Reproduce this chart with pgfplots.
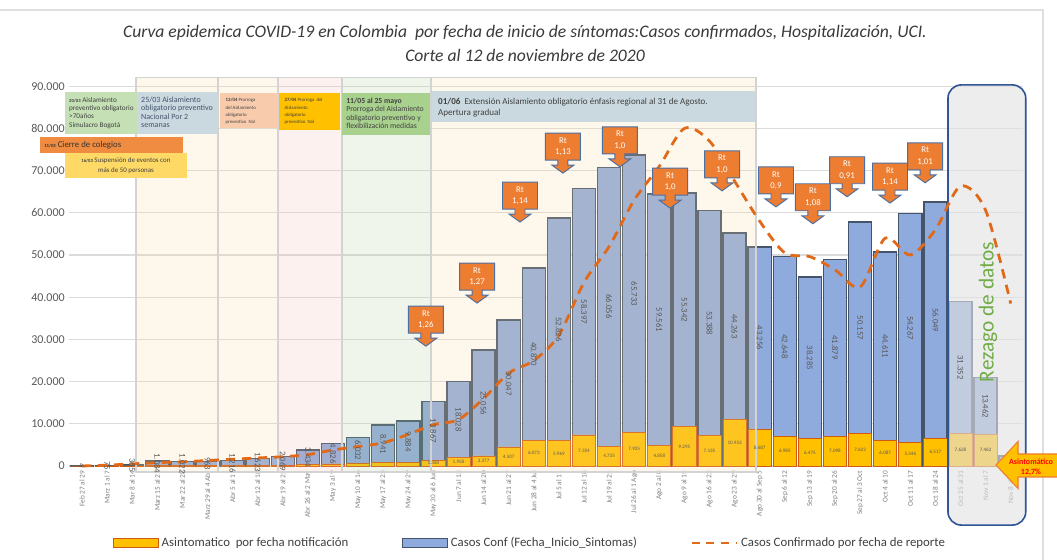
\documentclass[border=0pt]{standalone}
\usepackage{fontspec}
\setmainfont{Carlito}
\usepackage{pgfplots}
\pgfplotsset{compat=1.18}
\usepackage{pgfplotstable}

\definecolor{bluebar}{HTML}{8FAADC}
\definecolor{blueedge}{HTML}{44546A}
\definecolor{yelbar}{HTML}{FFC000}
\definecolor{yeledge}{HTML}{D05A10}
\definecolor{repline}{HTML}{E06A1A}
\definecolor{creamB}{RGB}{250,220,160}
\definecolor{pinkB}{RGB}{240,185,170}
\definecolor{greenB}{RGB}{175,205,150}
\definecolor{bandline}{HTML}{D3D3D3}
\definecolor{rtorange}{HTML}{ED7D31}
\definecolor{rtblue}{HTML}{4A6FA5}
\definecolor{boxgreen}{HTML}{C5E0B4}
\definecolor{boxblue}{HTML}{CAD9E0}
\definecolor{boxpeach}{HTML}{F8CBAD}
\definecolor{boxgold}{HTML}{FFC000}
\definecolor{boxgreenB}{HTML}{A9D18E}
\definecolor{boxorange}{HTML}{F08C42}
\definecolor{boxyellow}{HTML}{FFD966}
\definecolor{rezfill}{HTML}{E2E2E2}
\definecolor{rezedge}{HTML}{2F5597}
\definecolor{rezgreen}{HTML}{70AD47}
\definecolor{txt}{HTML}{404040}
\definecolor{lbl}{HTML}{595959}

\pgfplotstableread{
idx asin conf rep
0 0 4 0
1 5 75 200
2 20 365 500
3 60 1084 800
4 60 1022 1000
5 70 963 1300
6 90 1216 1600
7 120 1623 1900
8 150 2069 2200
9 330 3434 2700
10 480 4826 3800
11 670 6032 4600
12 751 8941 5500
13 809 9884 7500
14 1380 13867 9800
15 1958 18028 11000
16 2377 25056 16000
17 4507 30047 22000
18 6073 40870 25000
19 5969 52826 31000
20 7354 58397 43500
21 4735 66056 52000
22 7925 65733 63000
23 4858 59561 71000
24 9295 55342 80000
25 7135 53388 77000
26 10953 44263 67500
27 8687 43256 58000
28 6985 42648 50500
29 6475 38285 49600
30 7098 41879 46500
31 7622 50157 42400
32 6087 44611 54000
33 5546 54267 50000
34 6517 56049 56000
35 7628 31352 66300
36 7462 13462 60600
37 1500 900 38500
}\data

\newcommand{\rt}[3]{%
  \draw[fill=rtorange, draw=rtblue, line width=0.7pt] (axis cs:#1,#2) -- ++(-8.25pt,6pt) -- ++(4.5pt,0pt) -- ++(0pt,3.75pt) -- ++(-9.375pt,0pt) -- ++(0pt,20.25pt) -- ++(26.25pt,0pt) -- ++(0pt,-20.25pt) -- ++(-9.375pt,0pt) -- ++(0pt,-3.75pt) -- ++(4.5pt,0pt) -- cycle;
  \node[text=white, align=center, inner sep=0pt, font=\fontsize{6.6}{8.4}\selectfont] at ([yshift=19.9pt]axis cs:#1,#2) {Rt\\#3};
}

\begin{document}
\begin{tikzpicture}
\begin{scope}[shift={(-52.0875pt,-70.5pt)}, x=0.75pt, y=0.75pt]
\fill[white] (0,0) rectangle (1057,560);
\draw[gray!25, line width=0.8pt] (0,550) -- (1043,550) -- (1043,0);
\node[font=\itshape\fontsize{13.2}{15}\selectfont, text=txt!90!black] at (525,527) {Curva epidemica COVID-19 en Colombia \ por fecha de inicio de síntomas:Casos confirmados, Hospitalización, UCI.};
\node[font=\itshape\fontsize{13.2}{15}\selectfont, text=txt!90!black] at (525,505) {Corte al 12 de noviembre de 2020};
\end{scope}

\begin{axis}[
  at={(0pt,0pt)}, anchor=south west,
  scale only axis, width=715.35pt, height=291.2pt,
  xmin=-0.5, xmax=37.5, ymin=0, ymax=92000,
  clip=false,
  axis y line*=left, axis x line*=bottom,
  y axis line style={draw=none},
  x axis line style={draw=bandline, line width=0.8pt},
  ytick={0,10000,...,90000},
  scaled y ticks=false,
  /pgf/number format/assume math mode=true,
  yticklabel style={font=\fontsize{9}{10}\selectfont, text=lbl, /pgf/number format/.cd, fixed, 1000 sep={.}},
  ymajorgrids, grid style={draw=gray!28, line width=0.8pt},
  major tick length=0pt,
  xtick={0,...,37},
  xticklabels={Feb 27 al 29, Marz 1 al 7, Mar 8 al 14, Marz 15 al 21, Mar 22 al 28, Marz 29 al 4 Abr, Abr 5 al 11, Abr 12 al 18, Abr 19 al 25, Abr 26 al 2 May, May 3 al 9, May 10 al 16, May 17 al 23, May 24 al 29, May 30 al 6 Jun, Jun 7 al 13, Jun 14 al 20, Jun 21 al 27, Jun 28 al 4 Jul, Jul 5 al 11, Jul 12 al 18, Jul 19 al 25, Jul 26 al 1 Ago, Ago 2 al 8, Ago 9 al 15, Ago 16 al 22, Ago 23 al 29, Ago 30 al Sep 5, Sep 6 al 12, Sep 13 al 19, Sep 20 al 26, Sep 27 al 3 Oct, Oct 4 al 10, Oct 11 al 17, Oct 18 al 24, Oct 25 al 31, Nov 1 al 7, Nov 8 al 12},
  xticklabel style={rotate=90, anchor=east, font=\fontsize{5.5}{6}\selectfont, text=gray},
  legend style={at={(0.483,-0.198)}, anchor=center, draw=none, fill=none, legend columns=3, font=\fontsize{9.6}{11}\selectfont, text=txt, /tikz/every even column/.append style={column sep=38pt}},
]
% bars
\addplot[ybar, bar width=0.92, bar shift=0pt, fill=bluebar, draw=blueedge, line width=1.1pt, forget plot] table[x=idx, y expr=\thisrow{asin}+\thisrow{conf}] {\data};
\addplot[ybar, bar width=0.92, bar shift=0pt, fill=yelbar, draw=yeledge, line width=0.6pt, forget plot] table[x=idx, y=asin] {\data};
% labels
\addplot[draw=none, mark=none, forget plot, point meta=\thisrow{conf},
  nodes near coords={\pgfmathprintnumber[fixed,precision=0,1000 sep={.},assume math mode=true]{\pgfplotspointmeta}},
  every node near coord/.append style={anchor=center, rotate=-90, font=\fontsize{6.5}{7}\selectfont, text=lbl, inner sep=0pt}]
  table[x=idx, y expr=\thisrow{asin}+0.5*\thisrow{conf}] {\data};
\addplot[draw=none, mark=none, forget plot, point meta=\thisrow{asin}, restrict x to domain=13.5:36.5,
  nodes near coords={\pgfmathprintnumber[fixed,precision=0,1000 sep={.},assume math mode=true]{\pgfplotspointmeta}},
  every node near coord/.append style={anchor=center, font=\fontsize{3.8}{4.5}\selectfont, text=lbl, inner sep=0pt}]
  table[x=idx, y expr=0.5*\thisrow{asin}] {\data};

% bands
\fill[creamB, fill opacity=0.2] (axis cs:2.15,-1400) rectangle (axis cs:5.42,92000);
\fill[creamB, fill opacity=0.2] (axis cs:5.42,-1400) rectangle (axis cs:7.81,92000);
\fill[pinkB, fill opacity=0.2] (axis cs:7.81,-1400) rectangle (axis cs:10.36,92000);
\fill[greenB, fill opacity=0.2] (axis cs:10.36,-1400) rectangle (axis cs:13.9,92000);
\fill[creamB, fill opacity=0.2] (axis cs:13.9,-1400) rectangle (axis cs:26.85,92000);
\draw[bandline, line width=1.1pt] (axis cs:2.15,-1400) rectangle (axis cs:5.42,92000);
\draw[bandline, line width=1.1pt] (axis cs:5.42,-1400) rectangle (axis cs:7.81,92000);
\draw[bandline, line width=1.1pt] (axis cs:7.81,-1400) rectangle (axis cs:10.36,92000);
\draw[bandline, line width=1.1pt] (axis cs:10.36,-1400) rectangle (axis cs:13.9,92000);
\draw[bandline, line width=1.1pt] (axis cs:13.9,-1400) rectangle (axis cs:26.85,92000);

% rezago box
\draw[rezedge, line width=1.2pt, fill=rezfill, fill opacity=0.62, rounded corners=10pt] (axis cs:34.5,-14000) rectangle (axis cs:37.6,90300);

% reported line
\addplot[smooth, tension=0.5, color=repline, line width=2.1pt, dash pattern=on 7pt off 5pt, forget plot] table[x=idx, y=rep] {\data};

% annotation boxes
\fill[boxgreen] (axis cs:-0.68,88600) rectangle (axis cs:2.19,78700);
\node[anchor=north west, align=left, inner sep=0pt, text=txt, font=\fontsize{5.4}{6.3}\selectfont] at ([xshift=3pt,yshift=-3.5pt]axis cs:-0.68,88600) {{\fontsize{3.5}{4}\selectfont\bfseries 20/03} Aislamiento\\preventivo obligatorio\\>70años\\Simulacro Bogotá};
\fill[boxblue] (axis cs:2.19,88600) rectangle (axis cs:5.42,78700);
\node[anchor=north west, align=left, inner sep=0pt, text=blueedge, font=\fontsize{6}{6.3}\selectfont] at ([xshift=3pt,yshift=-3.5pt]axis cs:2.19,88600) {25/03 Aislamiento\\obligatorio preventivo\\Nacional Por 2\\semanas};
\fill[boxpeach] (axis cs:5.50,88400) rectangle (axis cs:7.81,80100);
\node[anchor=north west, align=left, inner sep=0pt, text=txt, font=\fontsize{3.6}{5.4}\selectfont] at ([xshift=4pt,yshift=-4pt]axis cs:5.50,88400) {\textbf{13/04} Prorroga\\del Aislamiento\\obligatorio\\preventivo \ Nal};
\fill[boxgold] (axis cs:7.85,88400) rectangle (axis cs:10.28,79600);
\node[anchor=north west, align=left, inner sep=0pt, text=txt, font=\fontsize{3.6}{5.4}\selectfont] at ([xshift=4pt,yshift=-4pt]axis cs:7.85,88400) {\textbf{27/04} Prorroga \ del\\Aislamiento\\obligatorio\\preventivo \ Nal};
\fill[boxgreenB] (axis cs:10.36,88400) rectangle (axis cs:13.86,78400);
\node[anchor=north west, align=left, inner sep=0pt, text=txt, font=\fontsize{5.8}{6.3}\selectfont] at ([xshift=3pt,yshift=-3.5pt]axis cs:10.36,88400) {\textbf{11/05 al 25 mayo}\\Prorroga del Aislamiento\\obligatorio preventivo y\\flexibilización medidas};
\fill[boxblue] (axis cs:13.94,88900) rectangle (axis cs:26.81,81500);
\node[anchor=north west, align=left, inner sep=0pt, text=txt, font=\fontsize{6.8}{8.2}\selectfont] at ([xshift=4.5pt,yshift=-5pt]axis cs:13.94,88900) {\textbf{01/06} \ Extensión Aislamiento obligatorio énfasis regional al 31 de Agosto.\\Apertura gradual};
\fill[boxorange] (axis cs:-1.67,78000) rectangle (axis cs:4.02,74200);
\node[anchor=west, inner sep=0pt, text=black!80, font=\fontsize{6.6}{7}\selectfont] at ([xshift=3pt]axis cs:-1.67,76100) {{\fontsize{3.5}{4}\selectfont\bfseries 15/03} Cierre de colegios};
\fill[boxyellow] (axis cs:-0.68,74200) rectangle (axis cs:4.18,68200);
\node[align=center, inner sep=0pt, text=txt, font=\fontsize{5.2}{8}\selectfont] at (axis cs:1.75,71200) {{\fontsize{3.5}{4}\selectfont\bfseries 16/03} Suspensión de eventos con\\más de 50 personas};

% Rt callouts
\rt{13.70}{28400}{1,26}
\rt{15.74}{38600}{1,27}
\rt{17.45}{57800}{1,14}
\rt{19.16}{69400}{1,13}
\rt{21.43}{70900}{1,0}
\rt{23.43}{61100}{1,0}
\rt{25.50}{65200}{1,0}
\rt{27.65}{61400}{0,9}
\rt{29.12}{57400}{1,08}
\rt{30.48}{63800}{0,91}
\rt{32.19}{62300}{1,14}
\rt{33.59}{67100}{1,01}

\node[rotate=90, text=rezgreen, font=\fontsize{16}{18}\selectfont] at (axis cs:36.1,36500) {Rezago de datos};

% legend
\addlegendimage{legend image code/.code={\draw[fill=yelbar, draw=yeledge, line width=0.8pt] (0pt,-3.5pt) rectangle (34pt,3.5pt);}}
\addlegendentry{Asintomatico \ por fecha notificación}
\addlegendimage{legend image code/.code={\draw[fill=bluebar, draw=blueedge, line width=0.9pt] (0pt,-3.5pt) rectangle (34pt,3.5pt);}}
\addlegendentry{Casos Conf (Fecha\_Inicio\_Sintomas)}
\addlegendimage{legend image code/.code={\draw[repline, line width=2pt, dash pattern=on 6pt off 5pt] (0pt,0pt) -- (34pt,0pt);}}
\addlegendentry{Casos Confirmado por fecha de reporte}
\end{axis}

\begin{scope}[shift={(-52.0875pt,-70.5pt)}, x=0.75pt, y=0.75pt]
% Asintomatico arrow
\draw[fill=yelbar, draw=rtorange, line width=0.8pt] (996,95) -- (1018,118.5) -- (1018,106) -- (1075,106) -- (1075,83) -- (1018,83) -- (1018,71.5) -- cycle;
\node[text=red, font=\bfseries\fontsize{6}{7.5}\selectfont, align=center] at (1031,93) {Asintomático\\12,7\%};
\pgfresetboundingbox
\path[use as bounding box] (0,0) rectangle (1057,560);
\end{scope}
\end{tikzpicture}
\end{document}
